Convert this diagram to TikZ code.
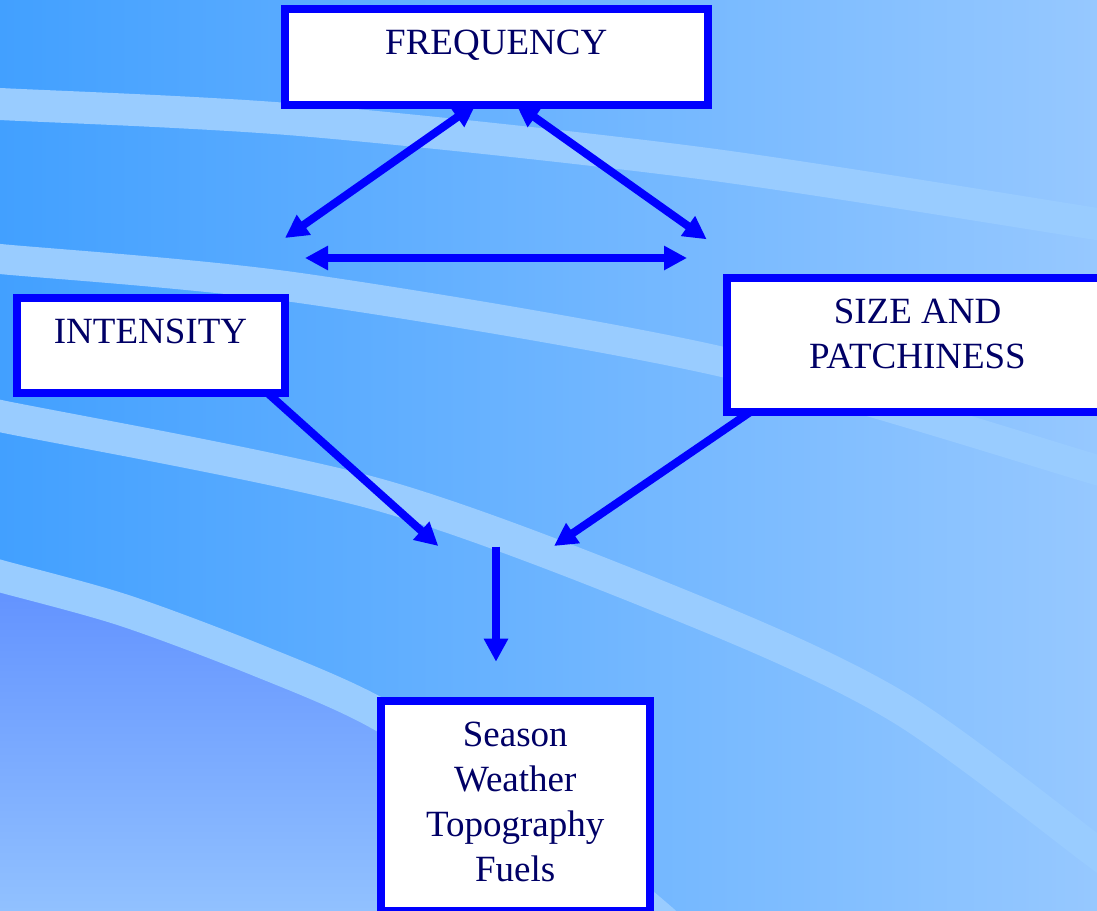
\documentclass[tikz,border=0pt]{standalone}
\usepackage{fontspec}
\setmainfont{Liberation Serif}
\usetikzlibrary{arrows.meta}
\definecolor{boxblue}{RGB}{0,0,255}
\definecolor{navytext}{RGB}{0,0,102}
\definecolor{bgleft}{RGB}{66,160,255}
\definecolor{bgright}{RGB}{150,200,255}
\definecolor{stripe}{RGB}{153,204,255}
\definecolor{lowtop}{RGB}{96,144,255}
\definecolor{lowbot}{RGB}{152,200,255}
\newcommand{\boxtext}[3]{\parbox[c][#1][t]{#2}{\centering\rule{0pt}{45.5pt}#3}}
\begin{document}
\begin{tikzpicture}[x=1pt,y=-1pt,
  box/.style={draw=boxblue, line width=8pt, fill=white, inner sep=0pt, outer sep=0pt,
    text=navytext, font=\fontsize{37}{45}\selectfont},
  tipshape/.tip={Triangle[length=23pt,width=23pt]},
  link/.style={draw=boxblue, line width=8pt, -tipshape},
  twoway/.style={draw=boxblue, line width=8pt, tipshape-tipshape},
  band/.style={draw=stripe, line width=32pt}
]
\useasboundingbox (0,0) rectangle (1097,910);
\begin{scope}
\clip (0,0) rectangle (1097,910);
\shade[left color=bgleft, right color=bgright] (0,0) rectangle (1097,910);
\shade[top color=lowtop, bottom color=lowbot]
  plot[smooth] coordinates {(-20,570) (0,576) (123,610) (257,660) (377,713) (520,805) (660,918) (700,960)}
  -- (-20,960) -- cycle;
\draw[band] plot[smooth] coordinates {(-20,103) (0,104) (300,120) (700,163) (1097,224) (1120,228)};
\draw[band, line width=30pt] plot[smooth] coordinates {(-20,257) (0,259) (300,288) (723,362) (1097,470) (1120,478)};
\draw[band] plot[smooth] coordinates {(-20,412) (0,416) (380,495) (700,613) (900,708) (1097,853) (1130,880)};
\draw[band] plot[smooth] coordinates {(-20,570) (0,576) (123,610) (257,660) (377,713) (520,805) (660,918) (700,960)};
\end{scope}

\node[box] (freq) at (496.25,57) {\boxtext{96pt}{422.5pt}{FREQUENCY}};
\node[box] (inten) at (150.5,345) {\boxtext{95pt}{268pt}{INTENSITY}};
\node[box] (size) at (917.5,344.85) {\boxtext{133.7pt}{381.6pt}{SIZE AND\\PATCHINESS}};
\node[box] (env) at (515.25,805.9) {\boxtext{210.8pt}{268.8pt}{Season\\Weather\\Topography\\Fuels}};

\coordinate (fl) at (285,238);
\coordinate (fr) at (706.7,239.3);
\coordinate (hl) at (305,258);
\coordinate (hr) at (687,258);
\coordinate (mi) at (438.3,546);
\coordinate (ms) at (554,546);
\coordinate (vs) at (496,546.7);
\coordinate (vt) at (496,661.7);

\draw[twoway] ([xshift=-20.25pt,yshift=1pt]freq.south) -- (fl);
\draw[twoway] ([xshift=19.75pt,yshift=1pt]freq.south) -- (fr);
\draw[twoway] (hl) -- (hr);
\draw[link] ([xshift=-17.5pt]inten.south east) -- (mi);
\draw[link] ([xshift=24pt]size.south west) -- (ms);
\draw[link] (vs) -- (vt);
\end{tikzpicture}
\end{document}
